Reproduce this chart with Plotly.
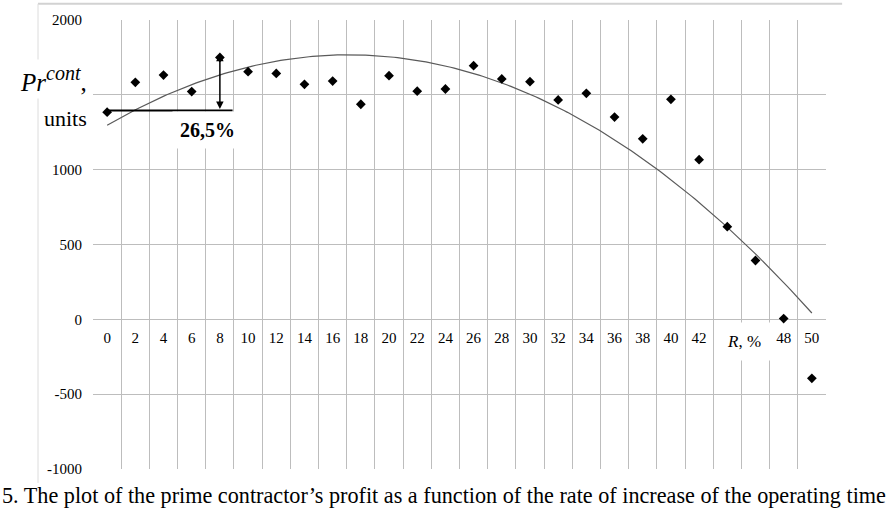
import numpy as np
import plotly.graph_objects as go

# ---- data ----
R = [0, 2, 4, 6, 8, 10, 12, 14, 16, 18, 20, 22, 24, 26, 28, 30, 32, 34, 36, 38, 40, 42, 44, 46, 48, 50]
profit = [1385, 1585, 1633, 1523, 1751, 1656, 1644, 1571, 1593, 1438, 1629, 1525, 1540,
          1696, 1607, 1589, 1467, 1511, 1352, 1207, 1471, 1067, 619, 393, 5, -395]
# labels 44 and 46 are hidden behind the axis title in the reference
x_tick_labels = ["0", "2", "4", "6", "8", "10", "12", "14", "16", "18", "20", "22", "24",
                 "26", "28", "30", "32", "34", "36", "38", "40", "42", "", "", "48", "50"]
y_tick_vals = [-1000, -500, 0, 500, 1000, 1500, 2000]
y_tick_labels = ["-1000", "-500", "0", "500", "1000", "", "2000"]
increase_label = "26,5%"
caption = ("5. The plot of the prime contractor\u2019s profit as a function of the rate "
           "of increase of the operating time")

# 2nd-order polynomial trendline computed from the points
coef = np.polyfit(R, profit, 2)
xs = np.linspace(R[0], R[-1], 200)
ys = np.polyval(coef, xs)

SERIF = "Liberation Serif"
GRID = "#bdbdbd"

fig = go.Figure()
fig.add_trace(go.Scatter(x=xs, y=ys, mode="lines",
                         line=dict(color="#5a5a5a", width=1.2),
                         hoverinfo="skip", showlegend=False))
fig.add_trace(go.Scatter(x=R, y=profit, mode="markers",
                         marker=dict(symbol="diamond", size=7.5, color="black"),
                         showlegend=False))

fig.update_layout(
    width=891, height=510,
    margin=dict(l=93, r=65, t=17, b=41),
    paper_bgcolor="white", plot_bgcolor="white",
    font=dict(family=SERIF, size=15, color="black"),
    xaxis=dict(range=[-1.003, 51.003], tickmode="array", tickvals=R, ticktext=x_tick_labels,
               showgrid=False, zeroline=False, showline=False, ticks="",
               anchor="free", position=1/3, ticklabelstandoff=8,
               minor=dict(tick0=-1, dtick=2, showgrid=True, gridcolor=GRID, gridwidth=1, ticks="")),
    yaxis=dict(range=[-1001.5, 2001.5], tickmode="array", tickvals=y_tick_vals, ticktext=y_tick_labels,
               showgrid=True, gridcolor=GRID, gridwidth=1,
               zeroline=True, zerolinecolor=GRID, zerolinewidth=1,
               showline=False, ticks="", ticklabelstandoff=10),
)

# chart-area border (top and left)
fig.add_shape(type="line", xref="paper", yref="paper", x0=-0.075, x1=1.022, y0=1.036, y1=1.036,
              line=dict(color="#d2d2d2", width=2))
fig.add_shape(type="line", xref="paper", yref="paper", x0=-0.075, x1=-0.075, y0=-0.031, y1=1.036,
              line=dict(color="#dcdcdc", width=1))

# reference line at the level of the first point, and double arrow to the point at R=8
fig.add_shape(type="line", xref="x", yref="y", x0=R[0], x1=8.9, y0=profit[0] + 12, y1=profit[0] + 12,
              line=dict(color="black", width=2))
fig.add_annotation(x=R[4], y=profit[4] + 25, ax=R[4], ay=profit[0] + 12, xref="x", yref="y",
                   axref="x", ayref="y", text="", showarrow=True, arrowside="end+start",
                   arrowhead=2, startarrowhead=2, arrowsize=1, startarrowsize=1,
                   arrowwidth=1.5, arrowcolor="black")
fig.add_annotation(x=7.1, y=1267, xref="x", yref="y", text="<b>" + increase_label + "</b>",
                   showarrow=False, font=dict(family=SERIF, size=20, color="black"),
                   bgcolor="white", borderpad=7)

# y-axis title
fig.add_annotation(x=-3 / 733, y=(469 - 76) / 452, xref="paper", yref="paper", xanchor="right",
                   yanchor="middle",
                   text="<i>Pr</i><sup><span style='font-size:20px'><i>cont</i></span></sup>,",
                   showarrow=False,
                   font=dict(family=SERIF, size=25, color="black"), bgcolor="white", borderpad=2)
fig.add_annotation(x=-2 / 733, y=(469 - 116) / 452, xref="paper", yref="paper", xanchor="right",
                   yanchor="middle", text="units", showarrow=False,
                   font=dict(family=SERIF, size=22, color="black"), bgcolor="white", borderpad=3)

# x-axis title
fig.add_annotation(x=45.2, y=-150, xref="x", yref="y", text="<i>R</i>, %", showarrow=False,
                   font=dict(family=SERIF, size=17, color="black"), bgcolor="white", borderpad=9)

# caption
fig.add_annotation(x=-93 / 733, y=(469 - 496) / 452, xref="paper", yref="paper", xanchor="left",
                   yanchor="middle", text=caption, showarrow=False,
                   font=dict(family=SERIF, size=22.2, color="black"))

fig.write_html("out.html", config={"displayModeBar": False},
               post_script="document.body.style.margin='0px';")
